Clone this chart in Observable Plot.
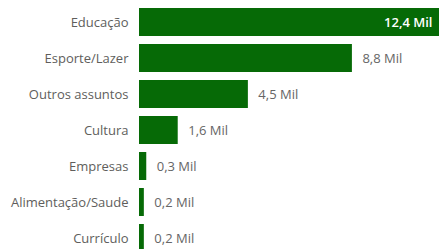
<!DOCTYPE html>
<html><head><meta charset="utf-8">
<script src="https://cdn.jsdelivr.net/npm/d3@7"></script>
<script src="https://cdn.jsdelivr.net/npm/@observablehq/plot@0.6"></script>
<style>html,body{margin:0;padding:0;background:#fff;overflow:hidden;width:439px;height:249px}</style>
</head><body><div id="chart"></div>
<script>
const categories = ["Educação","Esporte/Lazer","Outros assuntos","Cultura","Empresas","Alimentação/Saude","Currículo"];
const values = [12.4, 8.8, 4.5, 1.6, 0.3, 0.2, 0.2];
const unit = "Mil";
const data = categories.map((c, i) => ({category: c, value: values[i]}));
const fmt = v => v.toFixed(1).replace(".", ",") + " " + unit;
const maxV = d3.max(values);
const chart = Plot.plot({
  width: 439, height: 260,
  marginTop: 2, marginBottom: 1, marginLeft: 139, marginRight: 0,
  style: {fontFamily: "'Open Sans', sans-serif", fontSize: "13px", color: "#605e5c", background: "#fff"},
  x: {domain: [0, maxV], axis: null},
  y: {domain: categories, paddingInner: 0.21, paddingOuter: 0.105, axis: null},
  marks: [
    Plot.barX(data, {x: "value", y: "category", fill: "#066a06"}),
    Plot.axisY({tickSize: 0, tickPadding: 11, fontSize: 13, fill: "#605e5c", label: null}),
    Plot.text(data, {filter: d => d.value !== maxV, x: "value", y: "category", text: d => fmt(d.value),
      textAnchor: "start", dx: 10, fill: "#666666", fontSize: 13}),
    Plot.text(data, {filter: d => d.value === maxV, x: "value", y: "category", text: d => fmt(d.value),
      textAnchor: "end", dx: -7, fill: "#ffffff", fontSize: 13, fontWeight: 600})
  ]
});
document.getElementById("chart").appendChild(chart);
</script>
</body></html>
